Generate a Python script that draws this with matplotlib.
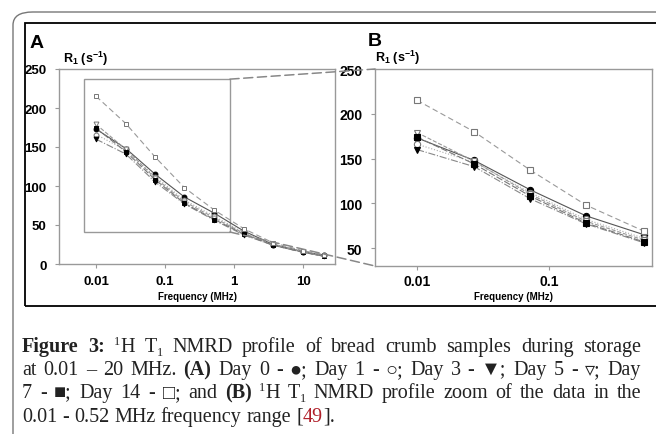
"""1H T1 NMRD profiles of bread crumb during storage"""

import re

import matplotlib
matplotlib.use('Agg')
import matplotlib.pyplot as plt
from matplotlib.patches import ConnectionPatch, FancyBboxPatch, Rectangle

freq = [0.01, 0.027, 0.072, 0.19, 0.52, 1.4, 3.7, 10, 20]

day0 = [173, 148, 115, 86, 65, 42, 25, 16, 11]
day1 = [166, 146, 112, 82, 61, 40, 25, 16, 11]
day3 = [160, 141, 105, 77, 56, 37, 24, 15, 10]
day5 = [179, 147, 110, 80, 59, 39, 24, 15, 10]
day7 = [174, 144, 108, 78, 57, 38, 24, 15, 10]
day14 = [215, 180, 137, 98, 69, 45, 27, 17, 12]

series_names = ['Day 0', 'Day 1', 'Day 3', 'Day 5', 'Day 7', 'Day 14']
series_values = [day0, day1, day3, day5, day7, day14]

# frequency window shown in panel B
zoom_n = 5

W, H = 656, 435
SANS = 'Liberation Sans'
SERIF = 'Liberation Serif'

plt.rcParams['mathtext.fontset'] = 'custom'
plt.rcParams['mathtext.bf'] = 'Liberation Sans:bold'
plt.rcParams['mathtext.rm'] = 'Liberation Sans:bold'

styles = {
    'Day 0': dict(ls='-', color='#555555', marker='o', mfc='black', mec='black'),
    'Day 1': dict(ls=':', color='#aaaaaa', marker='o', mfc='white', mec='#777777'),
    'Day 3': dict(ls='-.', color='#888888', marker='v', mfc='black', mec='black'),
    'Day 5': dict(ls='--', color='#999999', marker='v', mfc='white', mec='#777777'),
    'Day 7': dict(ls=(0, (6, 2)), color='#777777', marker='s', mfc='black', mec='black'),
    'Day 14': dict(ls=(0, (5, 3)), color='#999999', marker='s', mfc='white', mec='#777777'),
}


def px_axes(fig, left, top, right, bottom):
    return fig.add_axes([left / W, 1 - bottom / H, (right - left) / W,
                         (bottom - top) / H])


def style_axes(ax, fs, xpad):
    for sp in ax.spines.values():
        sp.set_color('#999999')
        sp.set_linewidth(1.0)
    ax.tick_params(axis='both', which='major', length=3, width=0.8,
                   color='#999999', pad=6)
    ax.tick_params(axis='x', which='major', pad=xpad)
    ax.tick_params(axis='both', which='minor', length=0)
    for lab in ax.get_xticklabels() + ax.get_yticklabels():
        lab.set_fontfamily(SANS)
        lab.set_fontweight('bold')
        lab.set_fontsize(fs)


def draw_caption_line(fig, runs, x0, y, width, fs, justify):
    """Place runs of text word by word, optionally justified"""
    renderer = fig.canvas.get_renderer()

    def props(style):
        p = dict(fontsize=fs, family=[SERIF, 'DejaVu Sans'], color='#222222',
                 va='baseline', ha='left')
        if style == 'b':
            p['fontweight'] = 'bold'
        elif style in ('sup', 'sub'):
            p['fontsize'] = fs * 0.6
        elif style == 'r':
            p['color'] = '#b0202a'
        return p

    probe1 = fig.text(0, 0, 'n n', **props('n'))
    probe2 = fig.text(0, 0, 'nn', **props('n'))
    space = (probe1.get_window_extent(renderer).width -
             probe2.get_window_extent(renderer).width)
    probe1.remove()
    probe2.remove()

    items = []
    for text, style in runs:
        for tok in re.split(r'( )', text):
            if tok == '':
                continue
            if tok == ' ':
                items.append(('space', None, space))
                continue
            t = fig.text(0, 0, tok, **props(style))
            w = t.get_window_extent(renderer).width
            items.append((style, t, w))

    natural = sum(w for _, _, w in items)
    nsp = sum(1 for s, _, _ in items if s == 'space')
    extra = (width - natural) / nsp if (justify and nsp) else 0.0

    x = x0
    for style, t, w in items:
        if style == 'space':
            x += w + extra
            continue
        dy = 0
        if style == 'sup':
            dy = -fs * 0.5
        elif style == 'sub':
            dy = fs * 0.3
        t.set_position((x / W, 1 - (y + dy) / H))
        x += w


def main():
    fig = plt.figure(figsize=(W / 100, H / 100), dpi=100)

    # page frame and figure box
    fig.add_artist(FancyBboxPatch((13 / W, 1 - 470 / H), 700 / W, 457 / H,
                                  boxstyle='round,pad=0,rounding_size=0.03',
                                  transform=fig.transFigure, fill=False,
                                  ec='#777777', lw=1.0))
    fig.add_artist(Rectangle((25 / W, 1 - 307 / H), 640 / W, 283 / H,
                             transform=fig.transFigure, fill=False,
                             ec='black', lw=1.3))

    ax_a = px_axes(fig, 59, 70, 335, 265)
    ax_b = px_axes(fig, 375, 70, 652, 267)

    for name, vals in zip(series_names, series_values):
        st = styles[name]
        ax_a.plot(freq, vals, lw=0.8, ms=3.5, mew=0.7, label=name, **st)
        ax_b.plot(freq[:zoom_n], vals[:zoom_n], lw=0.8, ms=4.5, mew=0.8,
                  **st)

    ax_a.set_xscale('log')
    ax_a.set_xlim(0.0029, 29)
    ax_a.set_ylim(0, 250)
    ax_a.set_xticks([0.01, 0.1, 1, 10])
    ax_a.set_xticklabels(['0.01', '0.1', '1', '10'])
    ax_a.set_yticks([0, 50, 100, 150, 200, 250])
    style_axes(ax_a, 9.5, 5)

    ax_b.set_xscale('log')
    ax_b.set_xlim(0.0048, 0.60)
    ax_b.set_ylim(30, 250)
    ax_b.set_xticks([0.01, 0.1])
    ax_b.set_xticklabels(['0.01', '0.1'])
    ax_b.set_yticks([50, 100, 150, 200, 250])
    style_axes(ax_b, 10, 3)

    # zoom window and connectors
    x1, x2, y1, y2 = 0.0067, 0.87, 41, 237
    ax_a.add_patch(Rectangle((x1, y1), x2 - x1, y2 - y1, fill=False,
                             ec='#999999', lw=1.0, zorder=1))
    for ya, yb in [(y2, 1), (y1, 0)]:
        con = ConnectionPatch(xyA=(x2, ya), coordsA=ax_a.transData,
                              xyB=(0, yb), coordsB=ax_b.transAxes,
                              ls=(0, (6, 3)), color='#888888', lw=1.1)
        fig.add_artist(con)

    # panel labels
    fig.text(30 / W, 1 - 43 / H, 'A', fontsize=14, fontweight='bold',
             family=SANS, va='center', ha='left')
    fig.text(368 / W, 1 - 41 / H, 'B', fontsize=14, fontweight='bold',
             family=SANS, va='center', ha='left')
    fig.text(63 / W, 1 - 59 / H, r'R$_\mathbf{1}$ (s$^\mathbf{-1}$)',
             fontsize=9, fontweight='bold', family=SANS, va='center')
    fig.text(375 / W, 1 - 58 / H, r'R$_\mathbf{1}$ (s$^\mathbf{-1}$)',
             fontsize=9, fontweight='bold', family=SANS, va='center')
    fig.text(197 / W, 1 - 297 / H, 'Frequency (MHz)', fontsize=7,
             fontweight='bold', family=SANS, ha='center', va='center')
    fig.text(513 / W, 1 - 297 / H, 'Frequency (MHz)', fontsize=7,
             fontweight='bold', family=SANS, ha='center', va='center')

    # caption
    caption = [
        [('Figure 3:', 'b'), (' ', 'n'), ('1', 'sup'), ('H T', 'n'),
         ('1', 'sub'),
         (' NMRD profile of bread crumb samples during storage', 'n')],
        [('at 0.01 \u2013 20 MHz. ', 'n'), ('(A)', 'b'),
         (' Day 0 - \u25cf; Day 1 - \u25cb; Day 3 - \u25bc; '
          'Day 5 - \u25bf; Day', 'n')],
        [('7 - \u25a0; Day 14 - \u25a1; and ', 'n'), ('(B)', 'b'), (' ', 'n'),
         ('1', 'sup'), ('H T', 'n'), ('1', 'sub'),
         (' NMRD profile zoom of the data in the', 'n')],
        [('0.01 - 0.52 MHz frequency range [', 'n'), ('49', 'r'),
         ('].', 'n')],
    ]
    baselines = [352, 375, 398, 422]
    for i, (runs, yb) in enumerate(zip(caption, baselines)):
        draw_caption_line(fig, runs, 22, yb, 619, 14.5, justify=(i < 3))

    fig.savefig('out.png', dpi=100)


if __name__ == '__main__':
    main()
